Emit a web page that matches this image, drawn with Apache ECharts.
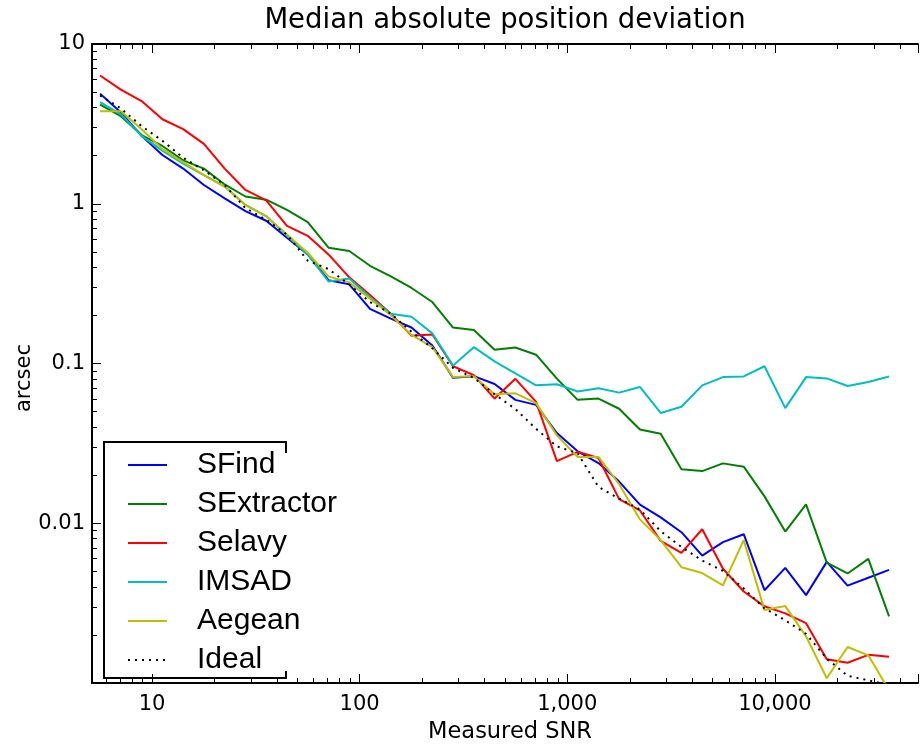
<!DOCTYPE html>
<html>
<head>
<meta charset="utf-8">
<script src="https://cdn.jsdelivr.net/npm/echarts@6/dist/echarts.min.js"></script>
<style>
html,body{margin:0;padding:0;background:#fff;}
#chart{width:921px;height:749px;}
</style>
</head>
<body>
<div id="chart"></div>
<script>
// Measured SNR bin centres
var snr = [5.623, 7.079, 8.913, 11.22, 14.13, 17.78, 22.39, 28.18, 35.48, 44.67,
  56.23, 70.79, 89.13, 112.2, 141.3, 177.8, 223.9, 281.8, 354.8, 446.7,
  562.3, 707.9, 891.3, 1122, 1413, 1778, 2239, 2818, 3548, 4467,
  5623, 7079, 8913, 11220, 14130, 17780, 22390, 28180, 35480];

var sfind = [4.89, 3.73, 2.66, 2.02, 1.66, 1.31, 1.08, 0.899, 0.783, 0.612,
  0.482, 0.332, 0.313, 0.220, 0.191, 0.168, 0.1296, 0.0813, 0.0833, 0.0744,
  0.0592, 0.0551, 0.0367, 0.0282, 0.0238, 0.01824, 0.01309, 0.01088, 0.00879, 0.00627,
  0.00762, 0.00854, 0.00381, 0.00526, 0.00355, 0.00573, 0.00407, 0.00456, 0.00511];

var sextractor = [4.18, 3.53, 2.69, 2.30, 1.87, 1.66, 1.32, 1.11, 1.06, 0.916,
  0.768, 0.531, 0.506, 0.409, 0.351, 0.297, 0.2425, 0.168, 0.162, 0.122,
  0.126, 0.1135, 0.0804, 0.0592, 0.0603, 0.0521, 0.0386, 0.0363, 0.0218, 0.0212,
  0.0237, 0.0226, 0.01473, 0.00887, 0.01314, 0.00567, 0.00485, 0.00598, 0.00261];

var selavy = [6.35, 5.18, 4.39, 3.38, 2.93, 2.37, 1.66, 1.22, 1.05, 0.726,
  0.630, 0.482, 0.346, 0.268, 0.205, 0.149, 0.152, 0.0961, 0.0845, 0.0603,
  0.0802, 0.0575, 0.0245, 0.0280, 0.0256, 0.01416, 0.01202, 0.00776, 0.00652, 0.00917,
  0.00519, 0.00374, 0.00302, 0.00273, 0.00237, 0.00141, 0.00134, 0.00150, 0.00146];

var imsad = [4.32, 3.63, 2.66, 2.15, 1.78, 1.51, 1.28, 0.983, 0.837, 0.630,
  0.482, 0.326, 0.341, 0.260, 0.205, 0.196, 0.1544, 0.0970, 0.1265, 0.1032,
  0.0866, 0.0730, 0.0741, 0.0668, 0.0700, 0.0657, 0.0713, 0.0490, 0.0536, 0.0730,
  0.0822, 0.0830, 0.0961, 0.0526, 0.0822, 0.0807, 0.0723, 0.0765, 0.0830];

var aegean = [3.80, 3.80, 2.93, 2.20, 1.82, 1.51, 1.28, 0.983, 0.833, 0.641,
  0.494, 0.351, 0.322, 0.254, 0.2006, 0.151, 0.1265, 0.0822, 0.0833, 0.0642,
  0.0651, 0.0565, 0.0355, 0.0260, 0.0260, 0.01757, 0.01057, 0.00784, 0.00531, 0.00488,
  0.00409, 0.00784, 0.00286, 0.00303, 0.00196, 0.00107, 0.00168, 0.00149, 0.00090];

var ideal = [4.76, 3.95, 3.06, 2.48, 1.94, 1.62, 1.31, 0.938, 0.794, 0.641,
  0.441, 0.390, 0.312, 0.2425, 0.205, 0.158, 0.1247, 0.0938, 0.0813, 0.0642,
  0.0519, 0.0390, 0.0303, 0.0274, 0.0169, 0.01426, 0.01219, 0.00891, 0.00710, 0.00584,
  0.00504, 0.00390, 0.00293, 0.00247, 0.00203, 0.00142, 0.00111, 0.00104, 0.00097];

var seriesNames = ['SFind', 'SExtractor', 'Selavy', 'IMSAD', 'Aegean', 'Ideal'];
var seriesValues = [sfind, sextractor, selavy, imsad, aegean, ideal];
var seriesColors = ['#0000ff', '#008000', '#ff0000', '#00bfbf', '#bfbf00', '#000000'];

var xTickLabels = {10: '10', 100: '100', 1000: '1,000', 10000: '10,000'};
var yTickLabels = {10: '10', 1: '1', 0.1: '0.1', 0.01: '0.01'};

function pairs(vals) {
  return vals.map(function (v, i) { return [snr[i], v]; });
}
function lookup(table, v) {
  for (var k in table) {
    if (Math.abs(Math.log10(+k) - Math.log10(v)) < 1e-6) return table[k];
  }
  return '';
}

var FONT = 'DejaVu Sans';
var XMIN = 5.14, XMAX = 48900;

var chart = echarts.init(document.getElementById('chart'), null, {renderer: 'canvas'});

var series = seriesNames.map(function (name, i) {
  return {
    name: name,
    type: 'line',
    data: pairs(seriesValues[i]),
    showSymbol: false,
    symbol: 'none',
    clip: true,
    animation: false,
    lineStyle: {
      color: seriesColors[i],
      width: name === 'Ideal' ? 2 : 2,
      type: name === 'Ideal' ? [2, 5] : 'solid'
    },
    itemStyle: {color: seriesColors[i]}
  };
});

var axisCommon = {
  type: 'log',
  logBase: 10,
  axisLine: {show: true, onZero: false, lineStyle: {color: '#000', width: 2}},
  axisTick: {show: true, inside: true, length: 9, lineStyle: {color: '#000', width: 1}},
  minorTick: {show: true, splitNumber: 9, length: 5, lineStyle: {color: '#000', width: 1}},
  splitLine: {show: false},
  minorSplitLine: {show: false}
};

var option = {
  backgroundColor: '#fff',
  animation: false,
  title: {
    text: 'Median absolute position deviation',
    left: 500, top: 2, textAlign: 'center',
    textStyle: {fontFamily: FONT, fontSize: 27.5, fontWeight: 'normal', color: '#000'}
  },
  grid: {left: 92, top: 44, width: 835, height: 647, containLabel: false},
  xAxis: [
    Object.assign({}, axisCommon, {
      position: 'bottom', min: XMIN, max: XMAX,
      name: 'Measured SNR', nameLocation: 'middle', nameGap: 38,
      nameTextStyle: {fontFamily: FONT, fontSize: 22.5, color: '#000', padding: [0, 0, 0, 10]},
      axisLabel: {
        margin: 11, fontFamily: FONT, fontSize: 21, color: '#000',
        formatter: function (v) { return lookup(xTickLabels, v); }
      }
    }),
    Object.assign({}, axisCommon, {
      position: 'top', min: XMIN, max: XMAX,
      axisLabel: {show: false}
    })
  ],
  yAxis: [
    Object.assign({}, axisCommon, {
      position: 'left', min: 0.001, max: 10,
      axisLabel: {
        margin: 7, fontFamily: FONT, fontSize: 21, color: '#000',
        formatter: function (v) { return lookup(yTickLabels, v); }
      }
    })
  ],
  legend: {
    orient: 'vertical',
    left: 122, top: 445,
    itemWidth: 39, itemHeight: 14, itemGap: 9,
    data: seriesNames,
    itemStyle: {opacity: 0},
    textStyle: {fontFamily: 'Liberation Sans', fontSize: 30, color: '#000', lineHeight: 30, padding: [0, 0, 0, 25]}
  },
  graphic: [
    {
      type: 'polyline', silent: true, z: 100,
      shape: {points: [[286, 453], [286, 442], [104, 442], [104, 678], [286, 678], [286, 671]]},
      style: {stroke: '#000', lineWidth: 2, fill: null}
    },
    {
      type: 'text', silent: true, z: 100,
      x: 25, y: 378, rotation: Math.PI / 2,
      style: {text: 'arcsec', font: '21px "DejaVu Sans"', fill: '#000', align: 'center', verticalAlign: 'middle'}
    }
  ],
  series: series
};

chart.setOption(option);
</script>
</body>
</html>
